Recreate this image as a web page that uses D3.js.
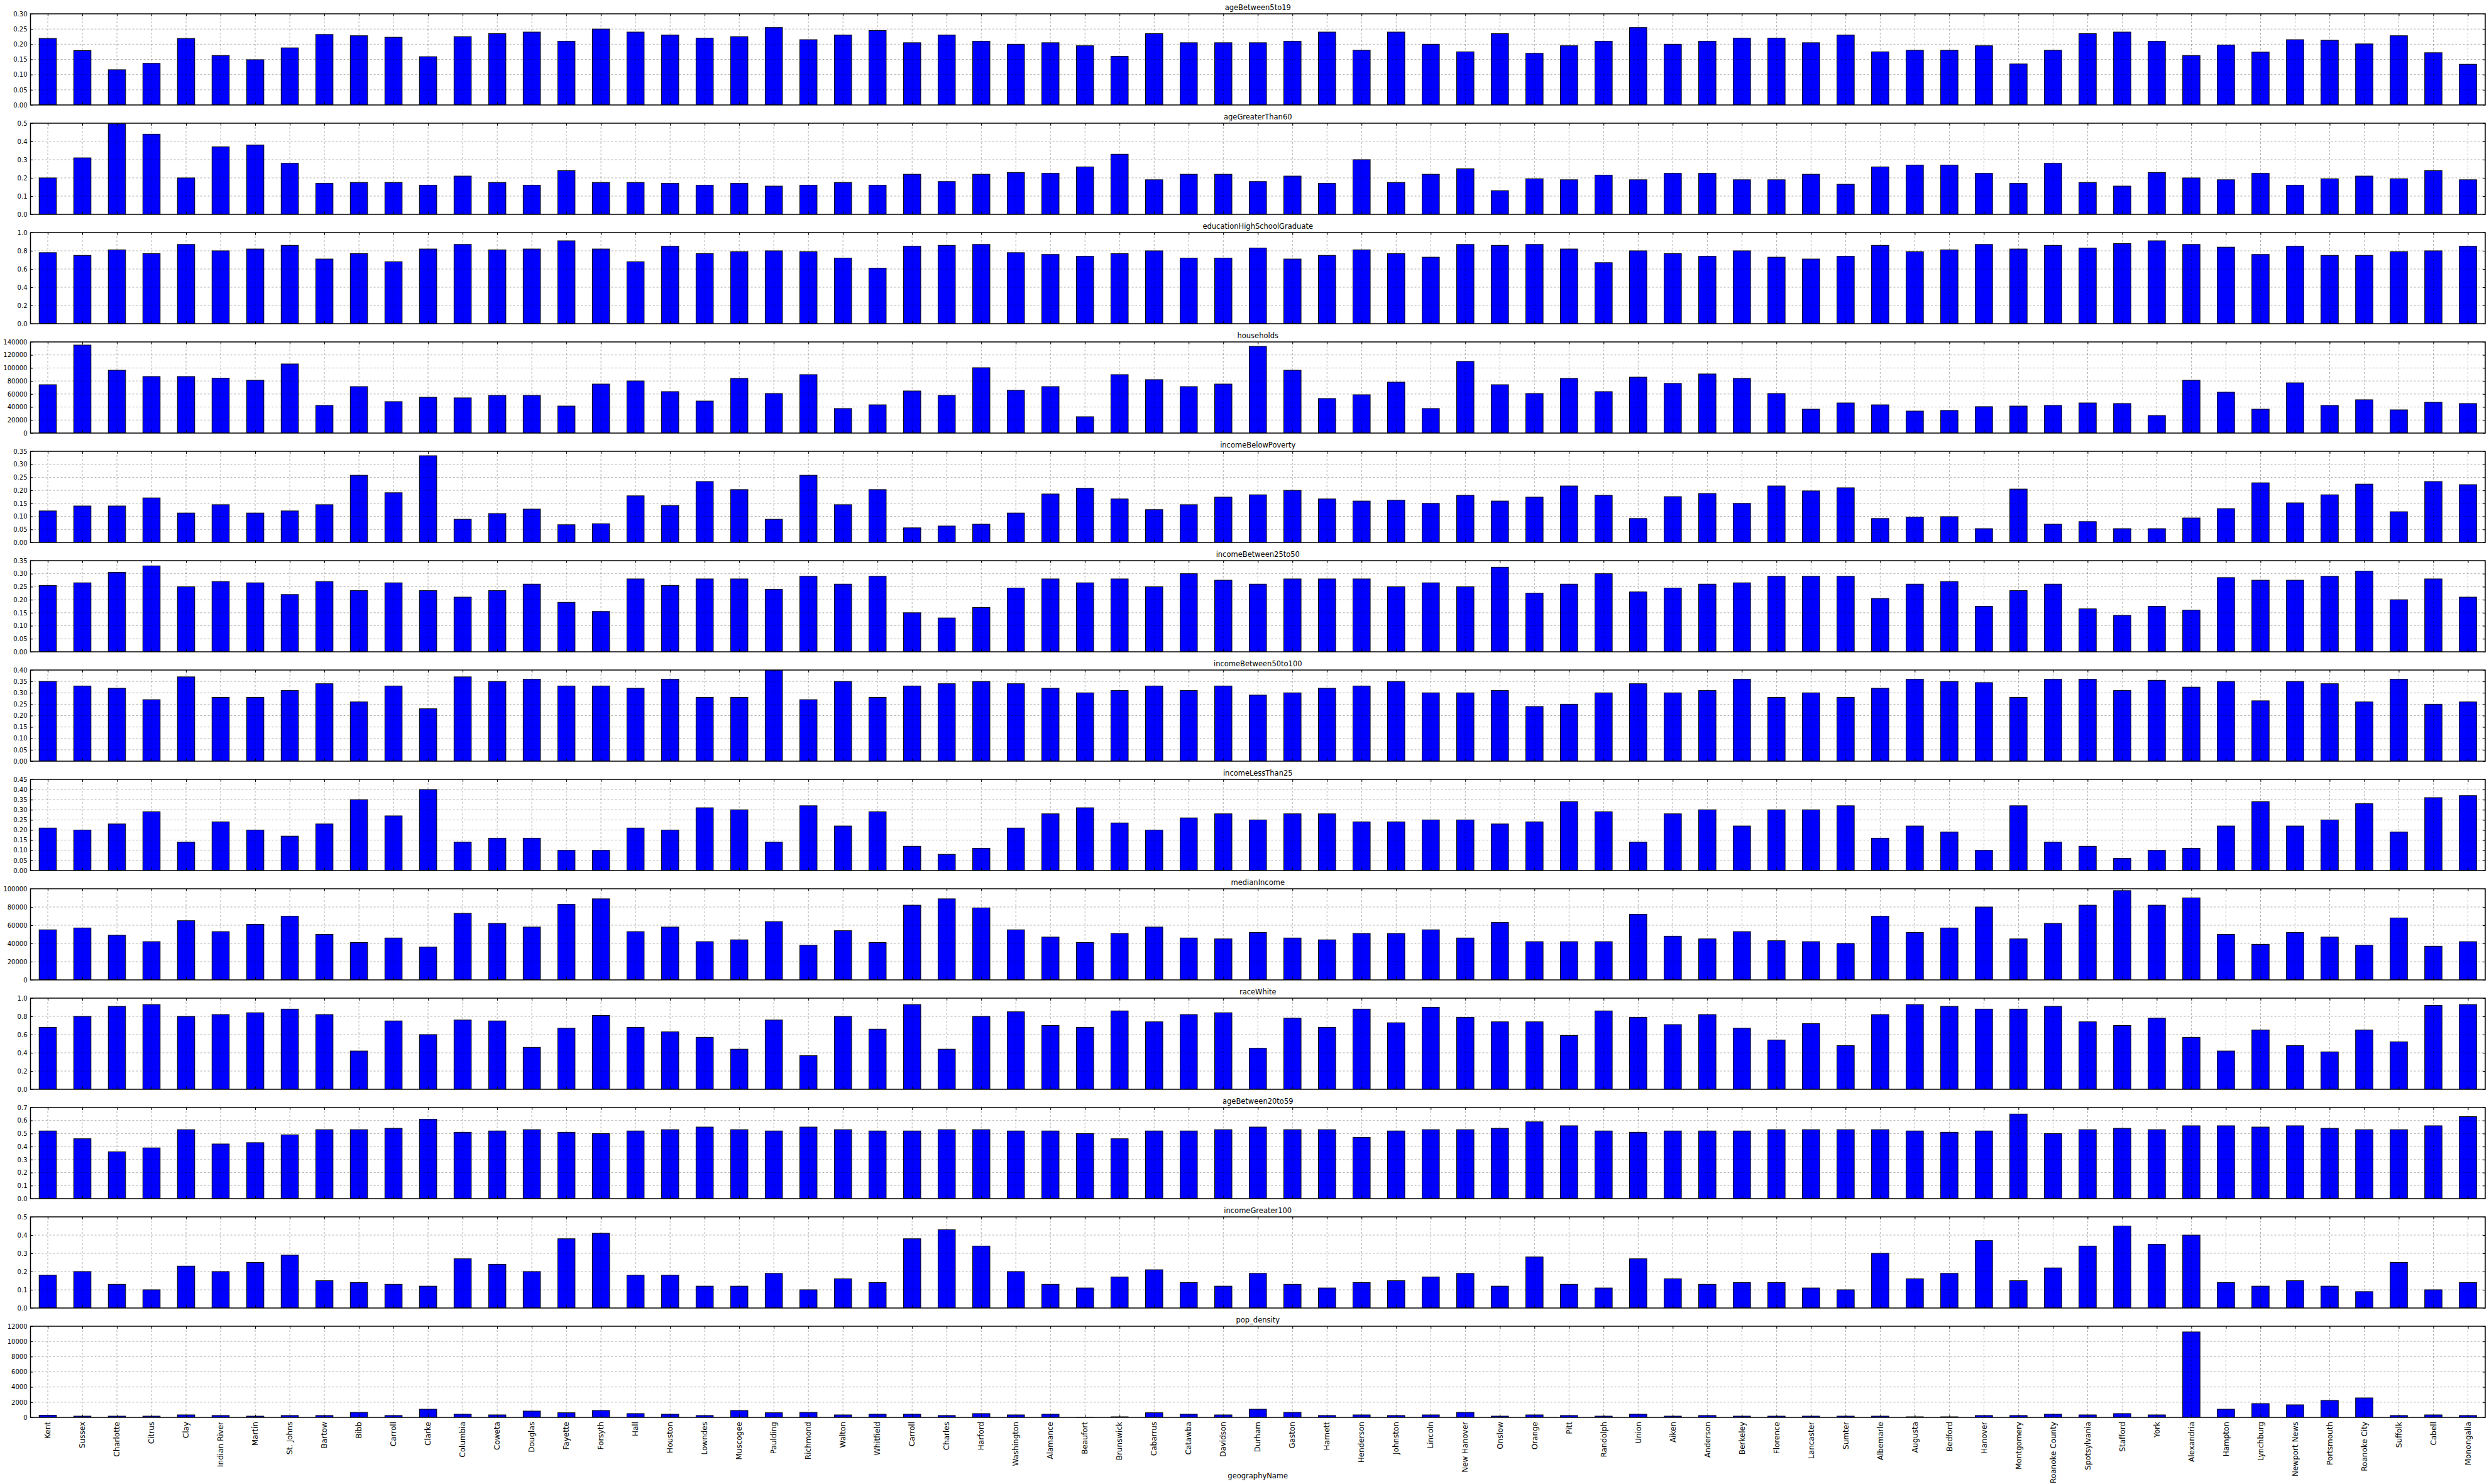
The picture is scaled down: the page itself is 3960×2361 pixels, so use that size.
<!DOCTYPE html>
<html><head><meta charset="utf-8">
<script src="https://cdn.jsdelivr.net/npm/d3@7"></script>
<style>
body{margin:0;background:#fff}
text{font-family:"DejaVu Sans",sans-serif;fill:#000}
</style></head>
<body><svg id="chart" width="3960" height="2361"></svg>
<script>
const categories = ["Kent","Sussex","Charlotte","Citrus","Clay","Indian River","Martin","St. Johns","Bartow","Bibb","Carroll","Clarke","Columbia","Coweta","Douglas","Fayette","Forsyth","Hall","Houston","Lowndes","Muscogee","Paulding","Richmond","Walton","Whitfield","Carroll","Charles","Harford","Washington","Alamance","Beaufort","Brunswick","Cabarrus","Catawba","Davidson","Durham","Gaston","Harnett","Henderson","Johnston","Lincoln","New Hanover","Onslow","Orange","Pitt","Randolph","Union","Aiken","Anderson","Berkeley","Florence","Lancaster","Sumter","Albemarle","Augusta","Bedford","Hanover","Montgomery","Roanoke County","Spotsylvania","Stafford","York","Alexandria","Hampton","Lynchburg","Newport News","Portsmouth","Roanoke City","Suffolk","Cabell","Monongalia"];

const ageBetween5to19 = [0.219,0.179,0.116,0.137,0.219,0.163,0.149,0.188,0.232,0.228,0.223,0.159,0.225,0.235,0.24,0.21,0.25,0.24,0.23,0.22,0.225,0.255,0.215,0.23,0.245,0.205,0.23,0.21,0.20,0.205,0.195,0.16,0.235,0.205,0.205,0.205,0.21,0.24,0.18,0.24,0.20,0.175,0.235,0.17,0.195,0.21,0.255,0.20,0.21,0.22,0.22,0.205,0.23,0.175,0.18,0.18,0.195,0.135,0.18,0.235,0.24,0.21,0.163,0.197,0.174,0.215,0.213,0.201,0.228,0.172,0.134];
const ageGreaterThan60 = [0.20,0.31,0.497,0.44,0.20,0.37,0.38,0.28,0.17,0.175,0.175,0.16,0.21,0.175,0.16,0.24,0.175,0.175,0.17,0.16,0.17,0.155,0.16,0.175,0.16,0.22,0.18,0.22,0.23,0.225,0.26,0.33,0.19,0.22,0.22,0.18,0.21,0.17,0.30,0.175,0.22,0.25,0.13,0.195,0.19,0.215,0.19,0.225,0.225,0.19,0.19,0.22,0.165,0.26,0.27,0.27,0.225,0.17,0.28,0.175,0.155,0.23,0.20,0.19,0.225,0.16,0.195,0.21,0.195,0.24,0.19];
const educationHighSchoolGraduate = [0.78,0.75,0.81,0.77,0.87,0.80,0.82,0.86,0.71,0.77,0.68,0.82,0.87,0.81,0.82,0.91,0.82,0.68,0.85,0.77,0.79,0.80,0.79,0.72,0.61,0.85,0.86,0.87,0.78,0.76,0.74,0.77,0.80,0.72,0.72,0.83,0.71,0.75,0.81,0.77,0.73,0.87,0.86,0.87,0.82,0.67,0.80,0.77,0.74,0.80,0.73,0.71,0.74,0.86,0.79,0.81,0.87,0.82,0.86,0.83,0.88,0.91,0.87,0.84,0.76,0.85,0.75,0.75,0.79,0.80,0.85];
const households = [74300,135200,96500,86900,86900,84300,81100,106200,42500,71400,48300,55000,54100,57900,57900,41500,75300,80100,63700,49200,84000,60800,89800,37700,43400,64700,57900,100400,65700,71400,25100,89800,82100,71400,75300,133200,96500,53100,58900,78200,37700,110100,74300,60800,84000,63700,85900,76300,90800,84000,60800,36700,46300,43400,33800,34800,40600,41500,42500,46300,45400,27000,81100,62800,36700,77200,42500,51200,35700,47300,45400];
const incomeBelowPoverty = [0.121,0.140,0.140,0.171,0.113,0.145,0.113,0.121,0.145,0.258,0.191,0.333,0.089,0.111,0.128,0.068,0.072,0.179,0.142,0.234,0.203,0.089,0.258,0.145,0.203,0.056,0.063,0.070,0.113,0.186,0.208,0.167,0.126,0.145,0.174,0.183,0.200,0.167,0.159,0.162,0.150,0.181,0.159,0.174,0.217,0.181,0.092,0.176,0.188,0.150,0.217,0.198,0.210,0.092,0.097,0.099,0.053,0.205,0.070,0.080,0.053,0.053,0.094,0.130,0.229,0.152,0.183,0.224,0.118,0.234,0.222];
const incomeBetween25to50 = [0.255,0.265,0.305,0.33,0.25,0.27,0.265,0.22,0.27,0.235,0.265,0.235,0.21,0.235,0.26,0.19,0.155,0.28,0.255,0.28,0.28,0.24,0.29,0.26,0.29,0.15,0.13,0.17,0.245,0.28,0.265,0.28,0.25,0.30,0.275,0.26,0.28,0.28,0.28,0.25,0.265,0.25,0.325,0.225,0.26,0.30,0.23,0.245,0.26,0.265,0.29,0.29,0.29,0.205,0.26,0.27,0.175,0.235,0.26,0.165,0.14,0.175,0.16,0.285,0.275,0.275,0.29,0.31,0.20,0.28,0.21];
const incomeBetween50to100 = [0.35,0.33,0.32,0.27,0.37,0.28,0.28,0.31,0.34,0.26,0.33,0.23,0.37,0.35,0.36,0.33,0.33,0.32,0.36,0.28,0.28,0.40,0.27,0.35,0.28,0.33,0.34,0.35,0.34,0.32,0.30,0.31,0.33,0.31,0.33,0.29,0.30,0.32,0.33,0.35,0.30,0.30,0.31,0.24,0.25,0.30,0.34,0.30,0.31,0.36,0.28,0.30,0.28,0.32,0.36,0.35,0.345,0.28,0.36,0.36,0.31,0.355,0.325,0.35,0.265,0.35,0.34,0.26,0.36,0.25,0.26];
const incomeLessThan25 = [0.21,0.20,0.23,0.29,0.14,0.24,0.20,0.17,0.23,0.35,0.27,0.40,0.14,0.16,0.16,0.10,0.10,0.21,0.20,0.31,0.30,0.14,0.32,0.22,0.29,0.12,0.08,0.11,0.21,0.28,0.31,0.235,0.20,0.26,0.28,0.25,0.28,0.28,0.24,0.24,0.25,0.25,0.23,0.24,0.34,0.29,0.14,0.28,0.30,0.22,0.30,0.30,0.32,0.16,0.22,0.19,0.10,0.32,0.14,0.12,0.06,0.10,0.11,0.22,0.34,0.22,0.25,0.33,0.19,0.36,0.37];
const medianIncome = [55000,57000,49000,42000,65000,53000,61000,70000,50000,41000,46000,36000,73000,62000,58000,83000,89000,53000,58000,42000,44000,64000,38000,54000,41000,82000,89000,79000,55000,47000,41000,51000,58000,46000,45000,52000,46000,44000,51000,51000,55000,46000,63000,42000,42000,42000,72000,48000,45000,53000,43000,42000,40000,70000,52000,57000,80000,45000,62000,82000,98000,82000,90000,50000,39000,52000,47000,38000,68000,37000,42000];
const raceWhite = [0.68,0.80,0.91,0.93,0.80,0.82,0.84,0.88,0.82,0.42,0.75,0.60,0.76,0.75,0.46,0.67,0.81,0.68,0.63,0.57,0.44,0.76,0.37,0.80,0.66,0.93,0.44,0.80,0.85,0.70,0.68,0.86,0.74,0.82,0.84,0.45,0.78,0.68,0.88,0.73,0.90,0.79,0.74,0.74,0.59,0.86,0.79,0.71,0.82,0.67,0.54,0.72,0.48,0.82,0.93,0.91,0.88,0.88,0.91,0.74,0.70,0.78,0.57,0.42,0.65,0.48,0.41,0.65,0.52,0.92,0.93];
const ageBetween20to59 = [0.52,0.46,0.36,0.39,0.53,0.42,0.43,0.49,0.53,0.53,0.54,0.61,0.51,0.52,0.53,0.51,0.50,0.52,0.53,0.55,0.53,0.52,0.55,0.53,0.52,0.52,0.53,0.53,0.52,0.52,0.50,0.46,0.52,0.52,0.53,0.55,0.53,0.53,0.47,0.52,0.53,0.53,0.54,0.59,0.56,0.52,0.51,0.52,0.52,0.52,0.53,0.53,0.53,0.53,0.52,0.51,0.52,0.65,0.50,0.53,0.54,0.53,0.56,0.56,0.55,0.56,0.54,0.53,0.53,0.56,0.63];
const incomeGreater100 = [0.18,0.20,0.13,0.10,0.23,0.20,0.25,0.29,0.15,0.14,0.13,0.12,0.27,0.24,0.20,0.38,0.41,0.18,0.18,0.12,0.12,0.19,0.10,0.16,0.14,0.38,0.43,0.34,0.20,0.13,0.11,0.17,0.21,0.14,0.12,0.19,0.13,0.11,0.14,0.15,0.17,0.19,0.12,0.28,0.13,0.11,0.27,0.16,0.13,0.14,0.14,0.11,0.10,0.30,0.16,0.19,0.37,0.15,0.22,0.34,0.45,0.35,0.40,0.14,0.12,0.15,0.12,0.09,0.25,0.10,0.14];
const pop_density = [280,165,165,165,330,250,165,250,250,660,250,1075,415,330,830,610,910,500,415,250,910,610,660,330,415,415,250,500,330,415,30,80,610,415,330,1075,660,250,330,250,330,660,165,330,250,165,415,165,250,165,165,165,165,165,80,80,250,250,415,330,500,330,11255,1075,1820,1655,2235,2565,250,330,250];

const ticks2dec35 = [0,0.05,0.10,0.15,0.20,0.25,0.30,0.35];
const ticksAge5to19 = [0,0.05,0.10,0.15,0.20,0.25,0.30];
const ticks1dec5 = [0,0.1,0.2,0.3,0.4,0.5];
const ticks1dec10 = [0,0.2,0.4,0.6,0.8,1.0];
const ticksHouseholds = [0,20000,40000,60000,80000,100000,120000,140000];
const ticks2dec40 = [0,0.05,0.10,0.15,0.20,0.25,0.30,0.35,0.40];
const ticks2dec45 = [0,0.05,0.10,0.15,0.20,0.25,0.30,0.35,0.40,0.45];
const ticksMedianIncome = [0,20000,40000,60000,80000,100000];
const ticks1dec7 = [0,0.1,0.2,0.3,0.4,0.5,0.6,0.7];
const ticksPopDensity = [0,2000,4000,6000,8000,10000,12000];

const panels = [
  {title:"ageBetween5to19", values:ageBetween5to19, ticks:ticksAge5to19, fmt:".2f"},
  {title:"ageGreaterThan60", values:ageGreaterThan60, ticks:ticks1dec5, fmt:".1f"},
  {title:"educationHighSchoolGraduate", values:educationHighSchoolGraduate, ticks:ticks1dec10, fmt:".1f"},
  {title:"households", values:households, ticks:ticksHouseholds, fmt:"d"},
  {title:"incomeBelowPoverty", values:incomeBelowPoverty, ticks:ticks2dec35, fmt:".2f"},
  {title:"incomeBetween25to50", values:incomeBetween25to50, ticks:ticks2dec35, fmt:".2f"},
  {title:"incomeBetween50to100", values:incomeBetween50to100, ticks:ticks2dec40, fmt:".2f"},
  {title:"incomeLessThan25", values:incomeLessThan25, ticks:ticks2dec45, fmt:".2f"},
  {title:"medianIncome", values:medianIncome, ticks:ticksMedianIncome, fmt:"d"},
  {title:"raceWhite", values:raceWhite, ticks:ticks1dec10, fmt:".1f"},
  {title:"ageBetween20to59", values:ageBetween20to59, ticks:ticks1dec7, fmt:".1f"},
  {title:"incomeGreater100", values:incomeGreater100, ticks:ticks1dec5, fmt:".1f"},
  {title:"pop_density", values:pop_density, ticks:ticksPopDensity, fmt:"d"}
];

const svg = d3.select("#chart");
const left = 48.5, right = 3954, top0 = 22, period = 174, ph = 145;
const x = d3.scaleBand().domain(d3.range(categories.length)).range([left, right]).paddingInner(0.5).paddingOuter(0.25);
const cx = i => x(i) + x.bandwidth()/2;

panels.forEach((p, k) => {
  const top = top0 + k*period, bottom = top + ph;
  const yMax = p.ticks[p.ticks.length-1];
  const y = d3.scaleLinear().domain([0, yMax]).range([bottom, top]);
  const g = svg.append("g");

  const clipId = "clip"+k;
  g.append("clipPath").attr("id", clipId).append("rect")
    .attr("x", left).attr("y", top).attr("width", right-left).attr("height", ph);

  g.append("g").attr("clip-path", `url(#${clipId})`).selectAll("rect")
    .data(p.values).join("rect")
    .attr("x", (d,i) => x(i)).attr("width", x.bandwidth())
    .attr("y", d => y(d)).attr("height", d => y(0) - y(d))
    .attr("fill", "#0000ff").attr("stroke", "#000").attr("stroke-width", 1);

  const grid = g.append("g").attr("stroke", "#000").attr("stroke-opacity", 0.32)
    .attr("stroke-width", 1).attr("stroke-dasharray", "3,3");
  grid.selectAll("line.h").data(p.ticks.filter(t => t > 0 && t < yMax)).join("line")
    .attr("x1", left).attr("x2", right).attr("y1", d => y(d)).attr("y2", d => y(d));
  grid.selectAll("line.v").data(d3.range(categories.length)).join("line")
    .attr("x1", d => cx(d)).attr("x2", d => cx(d)).attr("y1", top).attr("y2", bottom);

  const fmt = d3.format(p.fmt);
  const ay = g.append("g").attr("transform", `translate(${left},0)`)
    .call(d3.axisLeft(y).tickValues(p.ticks).tickFormat(fmt).tickSize(-4).tickPadding(5));
  ay.selectAll("text").attr("font-size", 10).attr("font-family", "DejaVu Sans");
  g.append("g").attr("transform", `translate(${right},0)`)
    .call(d3.axisRight(y).tickValues(p.ticks).tickFormat("").tickSize(-4));
  const xp = d3.scalePoint().domain(d3.range(categories.length)).range([cx(0), cx(categories.length-1)]);
  g.append("g").attr("transform", `translate(0,${bottom})`).call(d3.axisBottom(xp).tickFormat("").tickSize(-4));
  g.append("g").attr("transform", `translate(0,${top})`).call(d3.axisTop(xp).tickFormat("").tickSize(-4));
  g.selectAll(".domain").remove();
  g.selectAll(".tick line").attr("stroke", "#000").attr("stroke-width", 1);

  g.append("rect").attr("x", left).attr("y", top).attr("width", right-left).attr("height", ph)
    .attr("fill", "none").attr("stroke", "#000").attr("stroke-width", 1.5);

  g.append("text").attr("x", (left+right)/2).attr("y", top - 6)
    .attr("text-anchor", "middle").attr("font-size", 11.5).text(p.title);

  if (k === panels.length - 1) {
    g.append("g").selectAll("text").data(categories).join("text")
      .attr("transform", (d,i) => `translate(${cx(i)},${bottom + 7}) rotate(-90)`)
      .attr("text-anchor", "end").attr("dy", "0.35em").attr("font-size", 12)
      .text(d => d);
    g.append("text").attr("x", (left+right)/2).attr("y", 2352)
      .attr("text-anchor", "middle").attr("font-size", 11.5).text("geographyName");
  }
});
</script></body></html>
